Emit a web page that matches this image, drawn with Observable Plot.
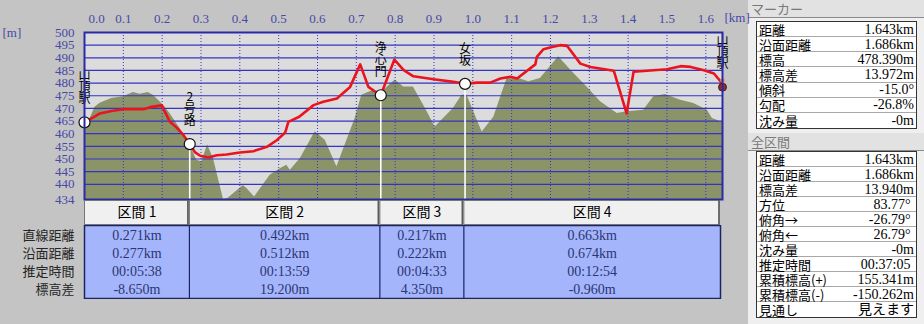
<!DOCTYPE html>
<html><head><meta charset="utf-8">
<script src="https://cdn.jsdelivr.net/npm/d3@7"></script>
<script src="https://cdn.jsdelivr.net/npm/@observablehq/plot@0.6"></script>
<style>
body{margin:0;background:#c4c4c4;}
#wrap{position:relative;width:924px;height:324px;overflow:hidden;background:#c4c4c4;font-family:"Liberation Serif","Noto Sans CJK JP",serif;}
.abs{position:absolute;}
#panel{position:absolute;left:748px;top:0;width:176px;height:324px;background:#efefef;}
.hdr{position:absolute;left:0;width:176px;height:18px;background:#e2e2e2;border-bottom:1px solid #8a8a8a;box-sizing:border-box;color:#7a7a7a;font-size:13px;line-height:17px;padding-left:3px;font-family:"Noto Sans CJK JP",sans-serif;}
.box{position:absolute;left:8px;width:161px;background:#fff;border:1px solid #333;box-sizing:border-box;}
.row{display:flex;justify-content:space-between;align-items:center;border-bottom:1px solid #a8a8a8;box-sizing:border-box;padding:0 2px 0 2px;font-size:13px;color:#000;white-space:pre;}
.row:last-child{border-bottom:none;}
.row .l{font-family:"Noto Sans CJK JP",sans-serif;font-size:13px;line-height:13px;}
.row .v{font-family:"Liberation Serif","Noto Sans CJK JP",serif;font-size:14px;line-height:13px;}
</style></head><body><div id="wrap"><div id="panel"></div></div>
<script>
// ---- profile data (distance km, elevation m) ----
const routeDist = [0,0.04,0.07,0.10,0.152,0.169,0.199,0.22,0.238,0.255,0.271,0.285,0.298,0.319,0.341,0.366,0.40,0.435,0.47,0.495,0.517,0.525,0.553,0.59,0.615,0.65,0.684,0.71,0.731,0.749,0.763,0.798,0.822,0.847,0.899,0.95,0.980,1.011,1.045,1.071,1.097,1.114,1.161,1.165,1.182,1.204,1.225,1.243,1.277,1.303,1.363,1.396,1.414,1.466,1.50,1.535,1.561,1.595,1.621,1.639,1.643];
const routeElev = [464.5,468,469,469.7,469.7,470.5,471.2,464.7,462.3,459.4,455.9,452.6,451.3,450.6,451.5,451.8,452.6,453.1,454.8,457.4,460.5,464.7,466.7,471.3,472.6,473.9,478.5,487.4,478.5,476.6,475.2,489.3,485.1,482.7,481.5,480.5,479.7,480.2,480.2,481.8,482.5,481.8,487.4,490.4,493.4,494.3,495.0,494.7,487.7,486.4,484.9,468.0,484.5,485.1,485.5,486.7,486.4,485.1,483.8,480.5,478.4];
const groundDist = [0,0.027,0.04,0.07,0.10,0.126,0.143,0.164,0.177,0.203,0.22,0.246,0.272,0.289,0.302,0.317,0.332,0.358,0.37,0.409,0.418,0.438,0.478,0.504,0.521,0.53,0.556,0.594,0.62,0.65,0.697,0.714,0.744,0.762,0.80,0.822,0.847,0.878,0.903,0.95,0.972,0.985,1.024,1.054,1.088,1.118,1.144,1.174,1.221,1.256,1.294,1.329,1.372,1.397,1.44,1.466,1.496,1.535,1.569,1.604,1.617,1.639,1.643];
const groundElev = [460.8,470.5,472,473.9,474.6,476.3,475.6,476.3,475.2,471.3,468,462.1,455.5,449.5,448.9,455.5,450.2,434,434.5,439.5,438.3,435,443.6,446.2,447.5,445.6,450.2,460.8,457.4,446.9,466,475.2,477.2,475.9,481.2,478.5,478.5,470,462.7,470,475.2,475.2,460.7,466.5,481.7,481.8,480.5,481.8,490.4,484.5,478.5,472.6,468,468.7,469.3,474.6,475.5,473.2,471.9,469.3,466,464.7,464.7];

// ---- waypoints ----
const markerNames = ["山頂駅","2号路","浄心門","女坂"];
const markerDist = [0,0.271,0.763,0.980];
const markerElev = [464.5,455.9,475.2,479.7];
const endName = "山頂駅";
const endDist = 1.643;
const endElev = 478.39;

// ---- ticks ----
const xTicks = [0,0.1,0.2,0.3,0.4,0.5,0.6,0.7,0.8,0.9,1.0,1.1,1.2,1.3,1.4,1.5,1.6];
const yTicks = [434,440,445,450,455,460,465,470,475,480,485,490,495,500];
const yGrid = [440,445,450,455,460,465,470,475,480,485,490,495];
const xUnit = "[km]";
const yUnit = "[m]";

// ---- section table ----
const sectionNames = ["区間 1","区間 2","区間 3","区間 4"];
const sectionStart = [0,0.271,0.763,0.980];
const sectionEnd = [0.271,0.763,0.980,1.643];
const rowLabels = ["直線距離","沿面距離","推定時間","標高差"];
const straightDist = ["0.271km","0.492km","0.217km","0.663km"];
const surfaceDist = ["0.277km","0.512km","0.222km","0.674km"];
const estTime = ["00:05:38","00:13:59","00:04:33","00:12:54"];
const elevDiff = ["-8.650m","19.200m","4.350m","-0.960m"];

// ---- side panel ----
const markerTitle = "マーカー";
const markerLabels = ["距離","沿面距離","標高","標高差","傾斜","勾配","沈み量"];
const markerValues = ["1.643km","1.686km","478.390m","13.972m","-15.0°","-26.8%","-0m"];
const totalTitle = "全区間";
const totalLabels = ["距離","沿面距離","標高差","方位","俯角→","俯角←","沈み量","推定時間","累積標高(+)","累積標高(-)","見通し"];
const totalValues = ["1.643km","1.686km","13.940m","83.77° ","-26.79° ","26.79° ","-0m","00:37:05 ","155.341m","-150.262m","見えます"];

// ---------------------------------------------------------
const FONT = '"Liberation Serif","Noto Sans CJK JP",serif';
const JFONT = '"Noto Sans CJK JP",sans-serif';
const W = 748, ML = 84, MR = 26;
const xDomain = [0, endDist];
const route = routeDist.map((d,i)=>({d, e: routeElev[i]}));
const ground = groundDist.map((d,i)=>({d, e: groundElev[i]}));
const markers = markerNames.map((n,i)=>({n, d: markerDist[i], e: markerElev[i]}));
const labels = [...markers, {n: endName, d: endDist, e: endElev}];
const yMin = yTicks[0], yMax = yTicks[yTicks.length-1];
const axisBlue = "#4848a8";
const gridBlue = "#3434c4";

const main = Plot.plot({
  width: W, height: 200,
  marginLeft: ML, marginRight: MR, marginTop: 32, marginBottom: 1,
  x: {domain: xDomain},
  y: {domain: [yMin, yMax]},
  style: {fontFamily: FONT, fontSize: "13px", background: "transparent", overflow: "visible"},
  marks: [
    Plot.frame({fill: "#dcdcdc", stroke: "none"}),
    Plot.areaY(ground, {x: "d", y1: yMin, y2: "e", fill: "#8a9468", curve: "linear"}),
    Plot.gridY(yGrid, {stroke: gridBlue, strokeOpacity: 1, strokeWidth: 1.2}),
    Plot.gridX(xTicks.slice(1), {stroke: gridBlue, strokeOpacity: 1, strokeDasharray: "1,2"}),
    Plot.ruleX(markers.slice(1), {x: "d", y1: yMin, y2: "e", stroke: "white", strokeWidth: 1.6}),
    Plot.line(route, {x: "d", y: "e", stroke: "#ea1420", strokeWidth: 2.6}),
    Plot.dot(markers, {x: "d", y: "e", r: 5.5, fill: "white", stroke: "#111", strokeWidth: 1.2}),
    Plot.dot([{d: endDist, e: endElev}], {x: "d", y: "e", r: 4, fill: "#9a2626", stroke: "#3a2a1a", strokeWidth: 1}),
    Plot.dot([{d: endDist, e: endElev}], {x: "d", y: "e", dy: -7, r: 2.2, fill: "#d79a6a", stroke: "none"}),
    Plot.text(labels, {x: "d", y: "e", text: d => d.n.split("").join("\n"), lineAnchor: "bottom", lineHeight: 1.0, dy: -19, fontSize: 12, fill: "#000", fontFamily: JFONT}),
    Plot.frame({stroke: "#2a2aa8", strokeWidth: 2}),
    Plot.axisX(xTicks.slice(1), {anchor: "top", label: null, tickSize: 0, tickPadding: 10, tickFormat: d3.format(".1f"), color: axisBlue, fontSize: 13}),
    Plot.axisX(xTicks.slice(0,1), {anchor: "top", label: null, tickSize: 0, tickPadding: 10, tickFormat: d3.format(".1f"), color: axisBlue, fontSize: 13, dx: 12}),
    Plot.axisY(yTicks, {anchor: "left", label: null, tickSize: 0, tickPadding: 10, color: axisBlue, fontSize: 13}),
    Plot.text([yUnit], {text: d => d, frameAnchor: "top-left", dx: -82, lineAnchor: "middle", textAnchor: "start", fill: axisBlue, fontSize: 13}),
    Plot.text([xUnit], {text: d => d, frameAnchor: "top-right", dx: 2, dy: -15, lineAnchor: "middle", textAnchor: "start", fill: axisBlue, fontSize: 13})
  ]
});
main.classList.add("abs");
main.style.left = "0px"; main.style.top = "0px";
document.getElementById("wrap").appendChild(main);

// ---- section header ----
const sections = sectionNames.map((n,i)=>({n, s: sectionStart[i], e: sectionEnd[i], m: (sectionStart[i]+sectionEnd[i])/2}));
const head = Plot.plot({
  width: W, height: 25,
  marginLeft: ML, marginRight: MR + 2, marginTop: 0, marginBottom: 0,
  x: {domain: xDomain, axis: null},
  style: {fontFamily: FONT, background: "transparent"},
  marks: [
    Plot.rect(sections, {x1: "s", x2: "e", fill: "#f0f0f0", stroke: "#777", strokeWidth: 1, insetLeft: 0.5, insetRight: 1, insetTop: 0.5, insetBottom: 0.5}),
    Plot.ruleX(sections, {x: "e", stroke: "#5a5a5a", strokeWidth: 1.5, dx: -1.5}),
    Plot.text(sections, {x: "m", text: "n", frameAnchor: "middle", fontSize: 14, fill: "#000", fontFamily: JFONT})
  ]
});
head.classList.add("abs");
head.style.left = "0px"; head.style.top = "200px";
document.getElementById("wrap").appendChild(head);

// ---- section body ----
const rowValues = [straightDist, surfaceDist, estTime, elevDiff];
const cells = [];
rowLabels.forEach((r,ri)=>sections.forEach((s,si)=>cells.push({r, m: s.m, v: rowValues[ri][si]})));
const body = Plot.plot({
  width: W, height: 74,
  marginLeft: ML, marginRight: MR + 2, marginTop: 0, marginBottom: 1,
  x: {domain: xDomain, axis: null},
  y: {type: "band", domain: rowLabels, padding: 0},
  style: {fontFamily: FONT, background: "transparent"},
  marks: [
    Plot.rect(sections, {x1: "s", x2: "e", fill: "#a5b5fb"}),
    Plot.ruleX(sections.slice(1), {x: "s", stroke: "#1c2464", strokeWidth: 1.2}),
    Plot.frame({stroke: "#1c2464", strokeWidth: 1.5}),
    Plot.text(cells, {x: "m", y: "r", text: "v", fontSize: 14, fill: "#2a3674"}),
    Plot.axisY({anchor: "left", label: null, tickSize: 0, tickPadding: 10, fontSize: 13, color: "#262626", fontFamily: JFONT})
  ]
});
body.classList.add("abs");
body.style.left = "0px"; body.style.top = "225px";
document.getElementById("wrap").appendChild(body);

// ---- side panel ----
const panel = document.getElementById("panel");
function header(title, top){
  const h = document.createElement("div");
  h.className = "hdr"; h.style.top = top + "px"; h.textContent = title;
  panel.appendChild(h);
}
function box(labs, vals, top, height){
  const b = document.createElement("div");
  b.className = "box"; b.style.top = top + "px"; b.style.height = height + "px";
  const rh = (height - 2) / labs.length;
  labs.forEach((l,i)=>{
    const r = document.createElement("div");
    r.className = "row"; r.style.height = rh + "px";
    const a = document.createElement("span"); a.className = "l"; a.textContent = l;
    const v = document.createElement("span"); v.className = "v"; v.textContent = vals[i];
    r.appendChild(a); r.appendChild(v); b.appendChild(r);
  });
  panel.appendChild(b);
}
header(markerTitle, 0);
box(markerLabels, markerValues, 21, 108);
header(totalTitle, 133);
box(totalLabels, totalValues, 151, 167);
</script>
</body></html>
